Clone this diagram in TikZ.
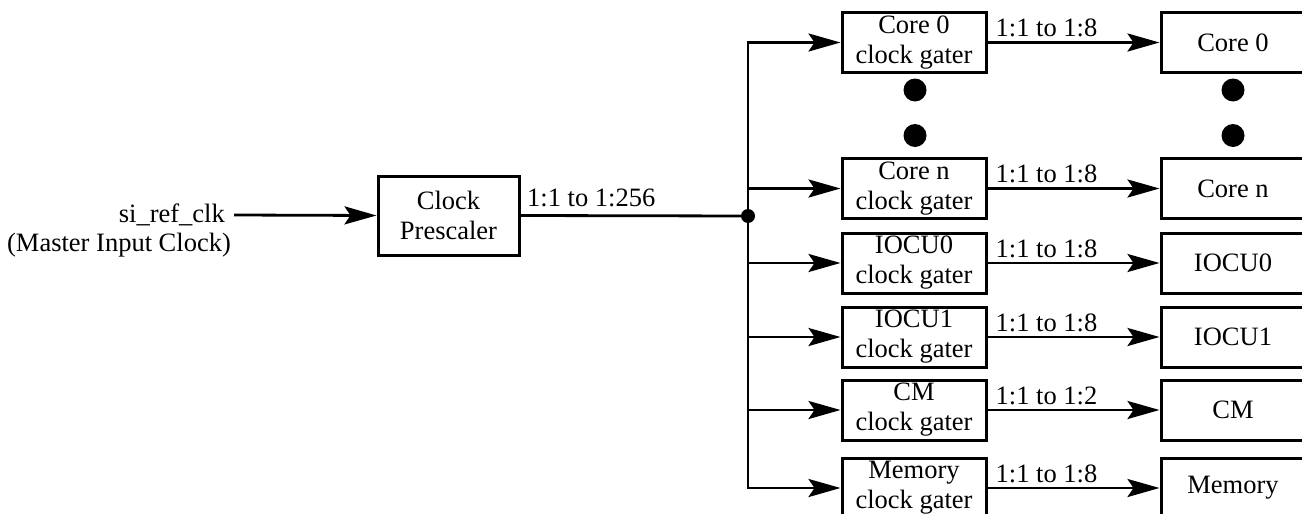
\documentclass[tikz,border=0pt]{standalone}
\usepackage{fontspec}
\setmainfont{Liberation Serif}
\usetikzlibrary{arrows.meta}
\begin{document}
\begin{tikzpicture}[x=1pt,y=-1pt,
  every node/.style={font=\fontsize{26.5}{30}\selectfont},
  box/.style={draw,line width=3pt,minimum width=144pt,minimum height=60pt,inner sep=0pt,align=center},
  wire/.style={line width=2.8pt},
  arr/.style={wire,-{Stealth[length=32pt,width=18pt,inset=6pt]}},
  bigdot/.style={circle,fill,inner sep=0pt,minimum size=23pt},
  lbl/.style={anchor=base west,inner sep=0pt}]
\useasboundingbox (0,0) rectangle (1302,514);
% input
\node[anchor=east,inner sep=0pt] (in) at (225,215) {si\_ref\_clk};
\node[inner sep=0pt] (master) at (119,245) {(Master Input Clock)};
\node[box,minimum width=141pt,minimum height=79pt] (pre) at (448.5,215.5) {Clock\\Prescaler};
\draw[arr] ([xshift=9pt]in.east) -- (pre.west);
\node[circle,fill,inner sep=0pt,minimum size=14pt] (j) at (748,216) {};
\draw[wire] (pre.east) -- (j);
\node[lbl] (plbl) at (527,206) {1:1 to 1:256};
% gaters
\node[box] (g0) at (914,42.5) {Core 0\\clock gater};
\node[box] (gn) at (914,188.5) {Core n\\clock gater};
\node[box] (gi0) at (914,263) {IOCU0\\clock gater};
\node[box] (gi1) at (914,337) {IOCU1\\clock gater};
\node[box] (gcm) at (914,410) {CM\\clock gater};
\node[box] (gmem) at (914,488) {Memory\\clock gater};
% outputs
\node[box] (c0) at (1233,42.5) {Core 0};
\node[box] (cn) at (1233,188.5) {Core n};
\node[box] (i0) at (1233,263) {IOCU0};
\node[box] (i1) at (1233,337) {IOCU1};
\node[box] (cm) at (1233,410) {CM};
\node[box] (mem) at (1233,488) {Memory};
% ellipsis dots
\node[bigdot] (dl1) at (915,90) {};
\node[bigdot] (dl2) at (915,135.5) {};
\node[bigdot] (dr1) at (1233,90) {};
\node[bigdot] (dr2) at (1233,135.5) {};
% bus
\draw[wire,line cap=rect] (j |- g0.west) -- (j |- gmem.west);
\foreach \g in {g0,gn,gi0,gi1,gcm,gmem}{
  \draw[arr] (j |- \g.west) -- (\g.west);
}
% gater to output
\foreach \g/\c/\r in {g0/c0/8,gn/cn/8,gi0/i0/8,gi1/i1/8,gcm/cm/2,gmem/mem/8}{
  \draw[arr] (\g.east) -- (\c.west);
  \node[lbl] at ([xshift=8pt,yshift=6pt]\g.east) {1:1 to 1:\r};
}
\end{tikzpicture}
\end{document}
